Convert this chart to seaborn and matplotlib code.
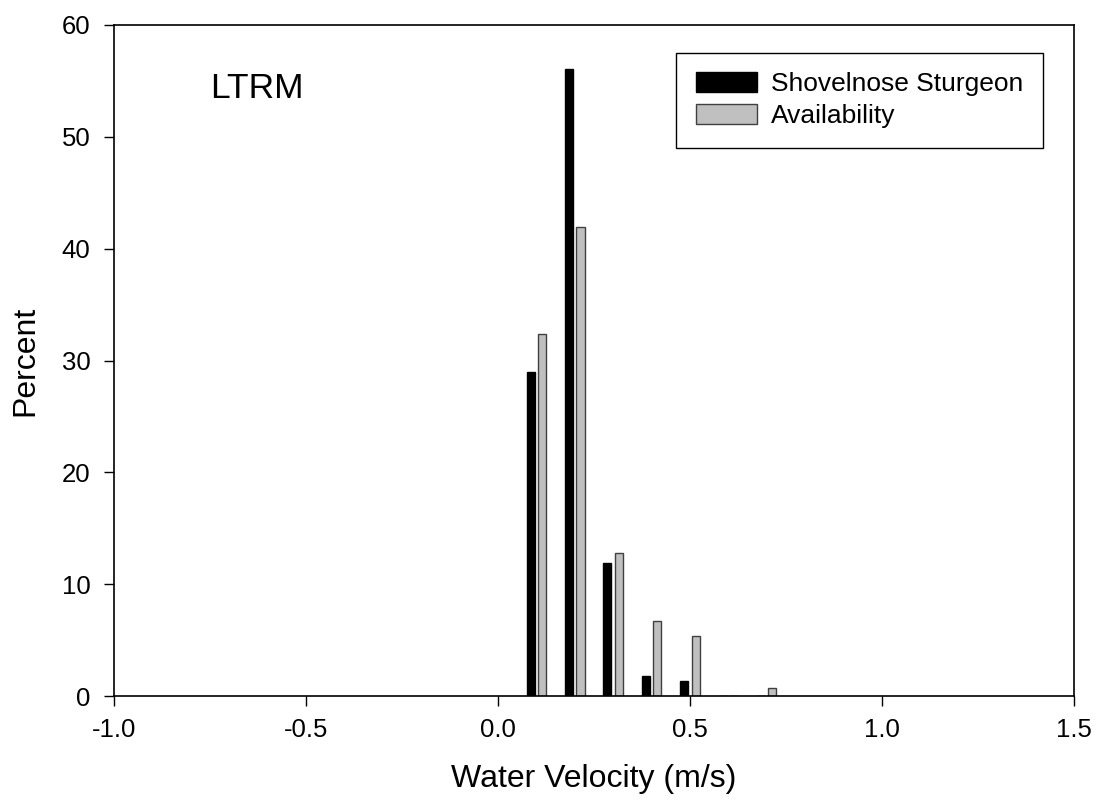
import matplotlib
matplotlib.use("Agg")
import matplotlib.pyplot as plt
import seaborn as sns
import pandas as pd
from matplotlib.patches import Patch

velocity = [0.1, 0.2, 0.3, 0.4, 0.5, 0.6, 0.7]
sturgeon = [29.0, 56.1, 11.9, 1.8, 1.3, 0.0, 0.0]
availability = [32.4, 41.9, 12.8, 6.7, 5.4, 0.0, 0.7]
series_names = ["Shovelnose Sturgeon", "Availability"]
x_ticks = [-1.0, -0.5, 0.0, 0.5, 1.0, 1.5]
y_ticks = [0, 10, 20, 30, 40, 50, 60]

df = pd.DataFrame({
    "velocity": velocity * 2,
    "percent": sturgeon + availability,
    "series": [series_names[0]] * len(velocity) + [series_names[1]] * len(velocity),
})

sns.set_theme(style="ticks")
plt.rcParams["font.family"] = ["Liberation Sans", "DejaVu Sans"]
plt.rcParams["axes.unicode_minus"] = False
plt.rcParams["text.color"] = "black"
plt.rcParams["axes.labelcolor"] = "black"
plt.rcParams["xtick.color"] = "black"
plt.rcParams["ytick.color"] = "black"

colors = {series_names[0]: "#000000", series_names[1]: "#c0c0c0"}
edges = {series_names[0]: "#000000", series_names[1]: "#404040"}

fig = plt.figure(figsize=(10.97, 8.0), dpi=100)
ax = fig.add_axes([0.1039, 0.13, 0.875, 0.83875])

sns.barplot(data=df, x="velocity", y="percent", hue="series", hue_order=series_names,
            palette=colors, native_scale=True, width=0.6, gap=0.3, dodge=True,
            errorbar=None, legend=False, ax=ax, linewidth=1.0)

for cont, name in zip(ax.containers, series_names):
    for p in cont.patches:
        p.set_edgecolor(edges[name])
        p.set_linewidth(1.0)

ax.set_xlim(-1.0, 1.5)
ax.set_ylim(0, 60)
ax.set_xticks(x_ticks)
ax.set_xticklabels([f"{v:.1f}" for v in x_ticks])
ax.set_yticks(y_ticks)
ax.set_yticklabels([str(v) for v in y_ticks])
ax.tick_params(axis="both", direction="out", length=7, width=1.0, labelsize=18.5,
               colors="black", labelcolor="black")
ax.tick_params(axis="x", pad=9)
ax.tick_params(axis="y", pad=10)
ax.tick_params(top=False, right=False)
for s in ax.spines.values():
    s.set_visible(True)
    s.set_color("black")
    s.set_linewidth(1.2)

ax.set_xlabel("Water Velocity (m/s)", fontsize=23, labelpad=16, color="black")
ax.set_ylabel("Percent", fontsize=23, labelpad=15.5, color="black")

ax.text(-0.75, 53.5, "LTRM", fontsize=25.5, ha="left", va="baseline", color="black")

handles = [Patch(facecolor=colors[n], edgecolor=edges[n], linewidth=1.0) for n in series_names]
leg = ax.legend(handles, series_names, loc="upper right", bbox_to_anchor=(0.968, 0.959),
                fontsize=19, frameon=True, fancybox=False, shadow=False,
                edgecolor="black", framealpha=1.0, handlelength=2.3, handleheight=0.75,
                handletextpad=0.55, borderpad=0.75, labelspacing=0.3, borderaxespad=0.0,
                labelcolor="black")
leg.get_frame().set_linewidth(1.0)

fig.savefig("out.png", dpi=100)
